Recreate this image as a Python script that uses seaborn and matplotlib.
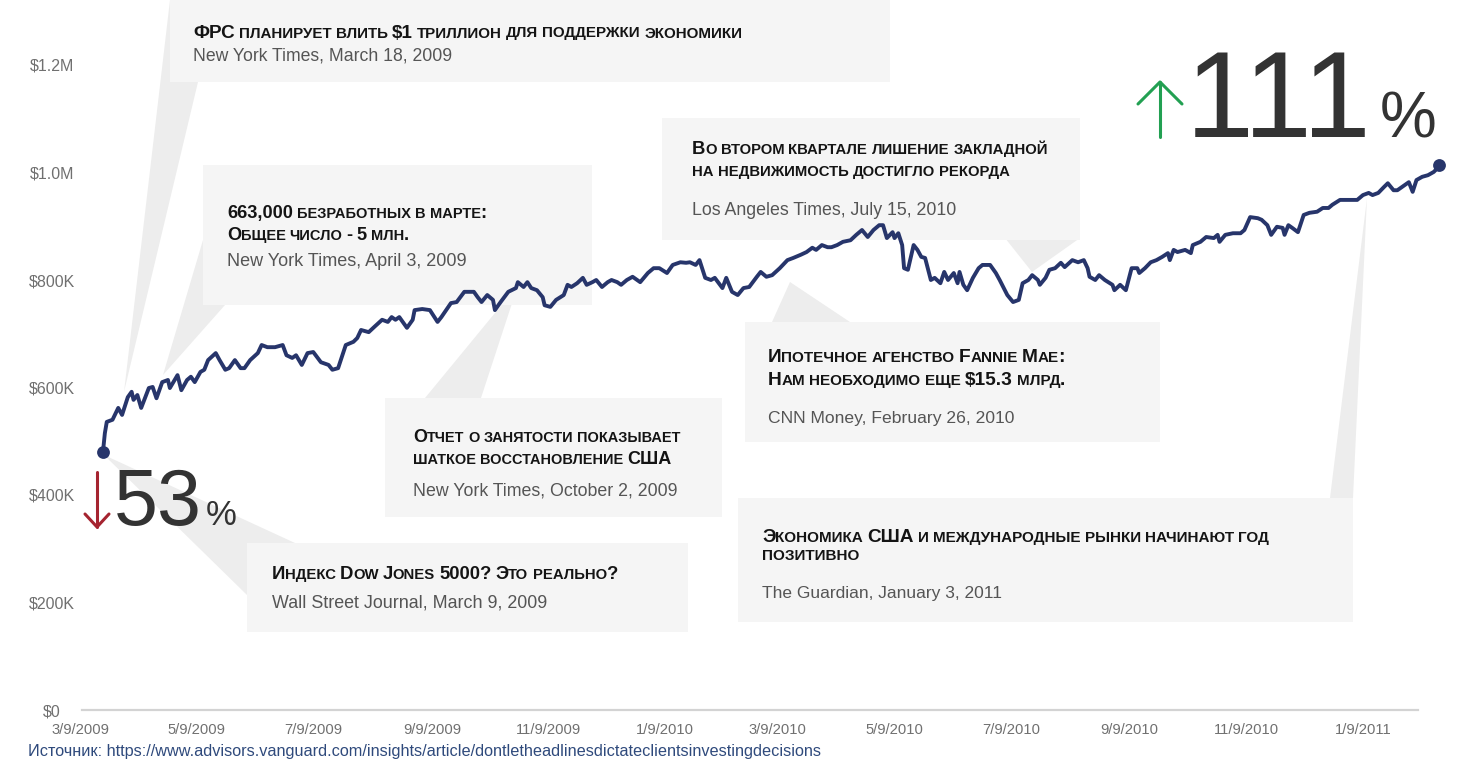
import numpy as np
import pandas as pd
import matplotlib
matplotlib.use("Agg")
import matplotlib.pyplot as plt
import matplotlib.dates as mdates
import seaborn as sns
from matplotlib.patches import Polygon
from matplotlib.lines import Line2D
from matplotlib.transforms import Affine2D

# ---------------- data ----------------
START_DATE = "2009-03-09"
day_offsets = [
    12, 13, 14, 17, 20, 22, 25, 27, 28, 30, 32, 36, 38, 40, 43, 46, 47, 51, 53, 56,
    58, 60, 63, 65, 67, 71, 73, 76, 78, 81, 84, 86, 89, 93, 95, 98, 102, 106, 108, 111,
    113, 116, 119, 122, 126, 130, 132, 135, 139, 143, 145, 147, 151, 154, 158, 161, 163, 165, 167, 171,
    174, 175, 179, 183,
    187, 189, 194, 197, 201, 206, 208, 210, 213, 216, 217, 220, 224, 228, 229, 232, 234, 236, 239, 242,
    243, 246, 249, 253, 255, 257, 260, 263, 265, 268, 270, 273, 276, 278, 281, 283, 286, 289, 293, 297,
    300, 303, 307, 310, 314, 317, 319, 322, 324, 327, 330, 332, 336, 338, 341, 344, 347, 350, 354, 356,
    359, 362, 366, 370, 373, 377, 380, 383, 385, 388, 391, 393, 396, 399, 403, 406, 409, 412, 415, 418,
    420, 422, 425, 426, 428, 430, 431, 433, 436, 438, 440, 442, 445, 447, 450, 452, 454, 457, 459, 460,
    462, 464, 467, 470, 472, 476, 479, 481, 485, 488, 491, 493, 496, 498, 501, 502, 505, 507, 510, 513,
    515, 519, 522, 525, 527, 528, 531, 533,
    536, 540, 541, 544, 547, 550, 553, 554, 557, 560, 563, 566, 569, 570, 572, 574, 578, 581, 582, 586,
    589, 593, 595, 596, 599, 603, 607, 609, 612, 616, 618, 621, 623, 626, 629, 630, 632, 634, 637, 640,
    643, 647, 650, 653, 655, 659, 663, 668, 671, 674, 676, 679, 682, 684, 687, 689, 693, 695, 697, 699,
    702, 705, 708, 710, 711,
]
portfolio_value_k = [
    480, 515, 536, 540, 562, 549, 582, 592, 577, 586, 562, 599, 601, 580, 610, 614, 599, 623, 595, 614,
    620, 610, 629, 633, 651, 664, 651, 633, 636, 651, 636, 636, 651, 664, 679, 675, 675, 679, 660, 655,
    660, 642, 664, 666, 647, 642, 633, 636, 679, 685, 692, 707, 703, 713, 726, 722, 731, 726, 731, 711,
    726, 744, 746, 744,
    722, 731, 757, 759, 778, 778, 768, 759, 772, 763, 744, 759, 778, 785, 796, 787, 796, 785, 781, 768,
    753, 750, 763, 772, 791, 787, 794, 804, 791, 796, 800, 787, 796, 800, 796, 791, 800, 806, 796, 813,
    822, 822, 813, 828, 833, 832, 833, 828, 837, 804, 800, 804, 785, 804, 778, 772, 785, 787, 806, 815,
    806, 809, 822, 837, 841, 847, 852, 860, 856, 865, 861, 861, 865, 871, 874, 884, 893, 880, 893, 902,
    902, 878, 889, 878, 887, 865, 822, 819, 865, 856, 843, 841, 800, 804, 794, 815, 800, 813, 794, 815,
    791, 781, 804, 822, 828, 828, 813, 800, 772, 759, 763, 794, 800, 809, 800, 791, 804, 819, 822, 832,
    824, 837, 833, 837, 822, 806, 800, 809,
    800, 791, 781, 791, 781, 822, 822, 813, 822, 833, 837, 843, 850, 837, 856, 852, 856, 850, 865, 871,
    880, 878, 884, 871, 884, 887, 887, 893, 917, 915, 912, 902, 884, 899, 897, 884, 902, 897, 889, 921,
    925, 927, 934, 934, 940, 949, 949, 949, 958, 962, 958, 962, 973, 980, 967, 967, 977, 982, 964, 986,
    992, 995, 1001, 1008, 1014,
]
x_tick_labels = ["3/9/2009", "5/9/2009", "7/9/2009", "9/9/2009", "11/9/2009", "1/9/2010",
                 "3/9/2010", "5/9/2010", "7/9/2010", "9/9/2010", "11/9/2010", "1/9/2011"]
y_tick_values_k = [0, 200, 400, 600, 800, 1000, 1200]
y_tick_labels = ["$0", "$200K", "$400K", "$600K", "$800K", "$1.0M", "$1.2M"]
gain_pct = "111"
drop_pct = "53"
headline_lines = [
    ["ФРС планирует влить $1 триллион для поддержки экономики"],
    ["663,000 безработных в марте:", "Общее число - 5 млн."],
    ["Во втором квартале лишение закладной", "на недвижимость достигло рекорда"],
    ["Ипотечное агенство Fannie Mae:", "Нам необходимо еще $15.3 млрд."],
    ["Отчет о занятости показывает", "шаткое восстановление США"],
    ["Индекс Dow Jones 5000? Это реально?"],
    ["Экономика США и международные рынки начинают год", "позитивно"],
]
source_lines = [
    "New York Times, March 18, 2009",
    "New York Times, April 3, 2009",
    "Los Angeles Times, July 15, 2010",
    "CNN Money, February 26, 2010",
    "New York Times, October 2, 2009",
    "Wall Street Journal, March 9, 2009",
    "The Guardian, January 3, 2011",
]
source_note = ("Источник: https://www.advisors.vanguard.com/insights/article/"
               "dontletheadlinesdictateclientsinvestingdecisions")

# ---------------- layout (pixels, origin top-left) ----------------
W, H, DPI = 1459, 764, 100
LINE_COLOR = "#27356b"
BOX_COLOR = "#f5f5f5"
WEDGE_COLOR = "#ededed"

boxes = [
    (170, 0, 890, 82),
    (203, 165, 592, 305),
    (662, 118, 1080, 240),
    (745, 322, 1160, 442),
    (385, 398, 722, 517),
    (247, 543, 688, 632),
    (738, 498, 1353, 622),
]
wedges = [
    [(170, 0), (198, 82), (124, 392)],
    [(203, 240), (203, 305), (225, 305), (163, 375)],
    [(1005, 238), (1080, 238), (1032, 272)],
    [(772, 322), (850, 322), (790, 282)],
    [(425, 398), (481, 398), (518, 285)],
    [(104, 455), (295, 543), (247, 595)],
    [(1330, 498), (1353, 498), (1367, 198)],
]
text_x = [193, 227, 692, 768, 413, 272, 762]
headline_baselines = [[37.5], [218, 240], [154, 176], [362, 385], [442, 464], [579], [542, 560]]
headline_fit = [(0, 547), (0, 258), (0, 355), (1, 297), (0, 265), (0, 344), (0, 505)]
source_baseline = [60.5, 266, 215, 423, 495, 607, 598]
source_width = [260, 239, 264, 247, 264, 275, 240]

sns.set_style("white")
plt.rcParams["font.family"] = ["Liberation Sans", "DejaVu Sans"]

fig = plt.figure(figsize=(W / DPI, H / DPI), dpi=DPI)
PX = Affine2D().scale(1, -1).translate(0, H)
renderer = fig.canvas.get_renderer()

# axes: day d -> 80 + 1.912 d px ; value v(K) -> 710 - 0.5375 v px
x_left_px = 80 - 5 * 1.912
x_right_px = 80 + 718 * 1.912
ax = fig.add_axes([x_left_px / W, (H - 710) / H, (x_right_px - x_left_px) / W, 710 / H])
ax.patch.set_visible(False)

start = pd.Timestamp(START_DATE)
df = pd.DataFrame({
    "date": start + pd.to_timedelta(day_offsets, unit="D"),
    "value": portfolio_value_k,
})
sns.lineplot(data=df, x="date", y="value", ax=ax, color=LINE_COLOR, linewidth=2.8,
             estimator=None, zorder=5)
ends = df.iloc[[0, -1]]
ax.scatter(ends["date"], ends["value"], s=85, color=LINE_COLOR, zorder=6,
           clip_on=False, linewidths=0)

ax.set_xlim(start - pd.Timedelta(days=5), start + pd.Timedelta(days=718))
ax.set_ylim(0, 710 / 0.5375)
ax.set_xticks(pd.to_datetime(x_tick_labels, format="%m/%d/%Y"))
ax.set_xticklabels(x_tick_labels)
ax.set_yticks(y_tick_values_k)
ax.set_yticklabels(y_tick_labels)
ax.set_xlabel("")
ax.set_ylabel("")
ax.tick_params(axis="x", length=0, pad=9, labelsize=10.6, labelcolor="#707070")
ax.tick_params(axis="y", length=0, pad=13.2, labelsize=11.5, labelcolor="#707070")
for lab in ax.get_yticklabels():
    lab.set_horizontalalignment("center")
for s in ["top", "right", "left"]:
    ax.spines[s].set_visible(False)
ax.spines["bottom"].set_color("#d3d3d3")
ax.spines["bottom"].set_linewidth(1.6)
ax.spines["bottom"].set_bounds(mdates.date2num(start + pd.Timedelta(days=1)),
                               mdates.date2num(start + pd.Timedelta(days=700)))
ax.grid(False)

# ---------------- callouts ----------------
for pts in wedges:
    fig.add_artist(Polygon(pts, closed=True, transform=PX, facecolor=WEDGE_COLOR,
                           edgecolor="none", zorder=-3))
for (x0, y0, x1, y1) in boxes:
    fig.add_artist(Polygon([(x0, y0), (x1, y0), (x1, y1), (x0, y1)], closed=True,
                           transform=PX, facecolor=BOX_COLOR, edgecolor="none", zorder=-2))


def tokenize(s):
    toks = []
    for ch in s:
        cat = "space" if ch == " " else ("small" if ch.islower() else "big")
        if toks and toks[-1][1] == cat:
            toks[-1][0] += ch
        else:
            toks.append([ch, cat])
    return toks


def draw_line(x, yb, s, size, ratio, weight, color, smallcaps):
    arts = []
    cur = x
    toks = tokenize(s) if smallcaps else [[s, "big"]]
    for tok, cat in toks:
        if cat == "space":
            cur += 0.30 * size * ratio * DPI / 72 * len(tok)
            continue
        fs = size * ratio if cat == "small" else size
        t = fig.text(cur, yb, tok.upper() if cat == "small" else tok, transform=PX,
                     fontsize=fs, fontweight=weight, color=color, ha="left",
                     va="baseline", zorder=10)
        bb = t.get_window_extent(renderer)
        cur = bb.x1 - 0.02 * fs * DPI / 72
        arts.append(t)
    return arts, cur - x


def fitted_size(x, yb, s, target, ratio, weight, color, smallcaps, size=12.5):
    for _ in range(3):
        arts, w = draw_line(x, yb, s, size, ratio, weight, color, smallcaps)
        for a in arts:
            a.remove()
        size *= target / w
    return size


for i, lines in enumerate(headline_lines):
    fi, tw = headline_fit[i]
    size = fitted_size(text_x[i], 0, lines[fi], tw, 0.8, "bold", "#141414", True)
    for yb, ln in zip(headline_baselines[i], lines):
        draw_line(text_x[i], yb, ln, size, 0.8, "bold", "#141414", True)
    ssize = fitted_size(text_x[i], 0, source_lines[i], source_width[i], 1, "normal",
                        "#555555", False)
    draw_line(text_x[i], source_baseline[i], source_lines[i], ssize, 1, "normal",
              "#555555", False)

# ---------------- big percentage labels ----------------
t = fig.text(1186, 137, gain_pct, transform=PX, fontsize=88, color="#333333",
             ha="left", va="baseline", zorder=10)
bb = t.get_window_extent(renderer)
fig.text(bb.x1 + 8, 137, "%", transform=PX, fontsize=46, color="#333333",
         ha="left", va="baseline", zorder=10)

t = fig.text(114, 525, drop_pct, transform=PX, fontsize=57, color="#333333",
             ha="left", va="baseline", zorder=10)
bb = t.get_window_extent(renderer)
fig.text(bb.x1 + 4, 525, "%", transform=PX, fontsize=25, color="#333333",
         ha="left", va="baseline", zorder=10)

green, red = "#22a052", "#a52430"
for xs, ys, c in [([1160, 1160], [137, 82], green), ([1138, 1160, 1182], [104, 82, 104], green),
                  ([97, 97], [472, 527], red), ([85, 97, 109], [514, 527, 514], red)]:
    fig.add_artist(Line2D(xs, ys, transform=PX, color=c, lw=2.2,
                          solid_capstyle="round", solid_joinstyle="round", zorder=10))

# ---------------- source note ----------------
nsize = fitted_size(28, 0, source_note, 792, 1, "normal", "#2f4a7c", False, size=11)
draw_line(28, 756, source_note, nsize, 1, "normal", "#2f4a7c", False)

fig.savefig("out.png", dpi=DPI)
